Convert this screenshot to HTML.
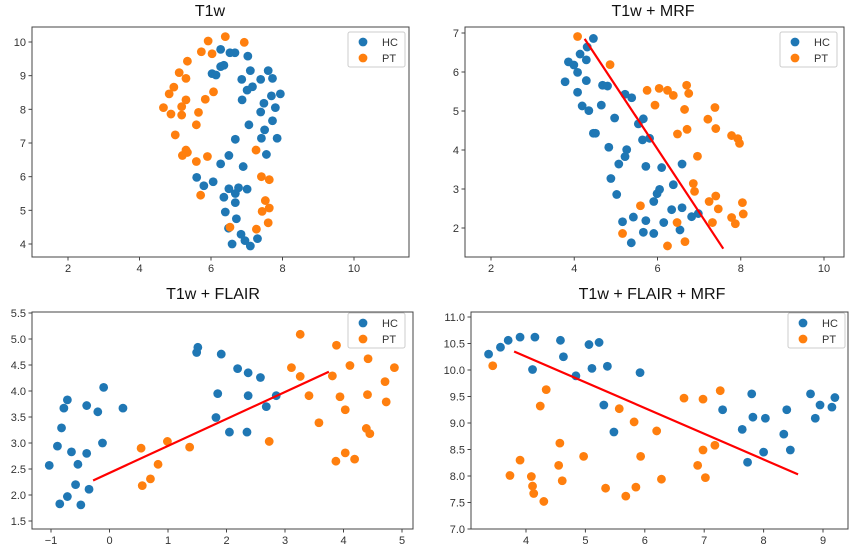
<!DOCTYPE html>
<html><head><meta charset="utf-8"><style>
body{margin:0;background:#fff;width:859px;height:552px;overflow:hidden;font-family:"Liberation Sans",sans-serif}
svg text{font-family:"Liberation Sans",sans-serif}
</style></head><body>
<svg id="chart" width="859" height="552" xmlns="http://www.w3.org/2000/svg"></svg>
<script>
// Panel 1: T1w
const p1HcX=[6.27,6.53,6.67,7.03,6.27,6.36,6.03,6.14,7.1,7.6,6.86,7.39,7.72,7.16,7.01,7.94,7.69,6.87,7.48,7.8,7.39,7.72,7.06,7.5,6.68,7.41,7.85,7.55,6.5,6.27,6.9,5.6,5.8,6.06,6.5,6.77,6.68,7.01,6.36,6.68,6.4,6.71,6.49,6.84,6.95,6.59,7.1,7.3];
const p1HcY=[9.78,9.68,9.68,9.58,9.27,9.31,9.06,9.02,9.15,9.15,8.89,8.89,8.92,8.67,8.57,8.46,8.4,8.28,8.18,8.05,7.92,7.66,7.54,7.39,7.11,7.14,7.14,6.66,6.63,6.38,6.3,5.98,5.73,5.85,5.64,5.67,5.5,5.63,5.39,5.23,4.95,4.75,4.47,4.29,4.1,4.0,3.94,4.16];
const p1PtX=[6.4,5.92,6.93,5.73,6.03,5.34,5.11,5.3,4.96,4.83,6.07,5.3,5.84,4.67,5.18,4.88,5.18,5.65,5.59,5.0,5.3,5.34,5.2,5.59,5.9,7.26,7.41,7.63,5.71,7.52,7.43,7.63,7.6,7.27,6.53];
const p1PtY=[10.16,10.03,9.99,9.71,9.65,9.43,9.09,8.92,8.66,8.46,8.52,8.28,8.3,8.05,8.08,7.86,7.83,7.91,7.54,7.24,6.79,6.72,6.63,6.45,6.6,6.79,6.0,5.91,5.45,5.29,4.97,5.07,4.63,4.44,4.5];
const p1XTicks=[2,4,6,8,10];
const p1YTicks=[4,5,6,7,8,9,10];
// Panel 2: T1w + MRF
const p2HcX=[4.46,4.31,4.14,4.29,3.86,3.99,4.08,3.78,4.29,4.68,4.8,4.08,5.22,5.38,4.19,4.65,4.35,4.97,5.66,5.54,4.46,4.51,5.64,5.81,4.83,5.26,5.22,5.07,5.72,6.1,6.59,4.88,6.38,6.05,5.99,5.02,5.91,5.42,6.34,6.59,6.98,6.82,5.16,5.72,6.15,6.54,5.66,5.91,5.37];
const p2HcY=[6.86,6.64,6.46,6.31,6.26,6.18,5.99,5.75,5.78,5.66,5.64,5.48,5.43,5.34,5.13,5.15,5.01,4.82,4.8,4.67,4.43,4.43,4.26,4.3,4.07,4.01,3.83,3.64,3.58,3.55,3.64,3.27,3.11,2.99,2.88,2.86,2.68,2.28,2.47,2.52,2.37,2.29,2.16,2.19,2.14,1.95,1.89,1.86,1.62];
const p2PtX=[4.08,4.86,5.75,6.04,6.24,6.38,6.7,6.75,5.94,6.65,7.38,7.21,7.4,6.71,6.48,7.78,7.93,7.97,6.96,6.86,6.89,7.4,7.24,7.46,8.04,8.06,7.78,7.87,7.32,5.59,6.47,5.16,6.66,6.24];
const p2PtY=[6.91,6.19,5.53,5.58,5.53,5.4,5.66,5.45,5.15,5.04,5.09,4.79,4.55,4.53,4.41,4.37,4.29,4.17,3.84,3.14,2.94,2.82,2.68,2.49,2.65,2.36,2.27,2.11,2.14,2.57,2.14,1.86,1.65,1.54];
const p2LineX=[4.25,7.58];
const p2LineY=[6.85,1.47];
const p2XTicks=[2,4,6,8,10];
const p2YTicks=[2,3,4,5,6,7];
// Panel 3: T1w + FLAIR
const p3HcX=[-1.03,-0.89,-0.82,-0.78,-0.72,-0.85,-0.72,-0.58,-0.65,-0.54,-0.49,-0.35,-0.39,-0.39,-0.2,-0.12,-0.1,0.23,1.49,1.51,1.91,1.85,1.82,2.19,2.37,2.58,2.37,2.85,2.68,2.05,2.35];
const p3HcY=[2.57,2.94,3.29,3.67,3.83,1.83,1.97,2.2,2.83,2.59,1.81,2.11,2.8,3.72,3.6,3.0,4.07,3.67,4.74,4.84,4.71,3.95,3.49,4.43,4.35,4.26,3.91,3.91,3.7,3.21,3.21];
const p3PtX=[0.54,0.56,0.7,0.83,0.99,1.37,2.73,3.11,3.26,3.26,3.41,3.58,3.81,3.88,3.94,4.03,4.11,3.87,4.03,4.19,4.42,4.41,4.39,4.45,4.71,4.73,4.87];
const p3PtY=[2.9,2.18,2.31,2.59,3.03,2.92,3.03,4.45,5.09,4.28,3.91,3.39,4.29,4.88,3.89,3.64,4.49,2.65,2.81,2.69,4.62,3.93,3.28,3.18,4.18,3.79,4.45];
const p3LineX=[-0.28,3.75];
const p3LineY=[2.28,4.37];
const p3XTicks=[-1,0,1,2,3,4,5];
const p3YTicks=[1.5,2.0,2.5,3.0,3.5,4.0,4.5,5.0,5.5];
// Panel 4: T1w + FLAIR + MRF
const p4HcX=[3.37,3.57,3.7,3.9,4.15,4.11,4.63,4.58,4.84,5.06,5.23,5.11,5.37,5.92,5.31,5.48,7.31,7.64,7.8,7.82,8.03,7.73,8.0,8.39,8.34,8.45,8.79,8.87,8.95,9.15,9.2];
const p4HcY=[10.3,10.43,10.56,10.62,10.62,10.01,10.25,10.56,9.89,10.48,10.52,10.03,10.07,9.95,9.34,8.83,9.25,8.88,9.55,9.11,9.09,8.26,8.45,9.25,8.79,8.49,9.55,9.09,9.34,9.3,9.48];
const p4PtX=[3.44,4.34,4.24,3.73,3.9,4.09,4.11,4.13,4.3,4.57,4.55,4.61,4.97,5.57,5.82,6.2,5.93,5.34,5.68,5.85,6.28,6.66,6.98,7.27,6.98,7.18,6.89,7.02];
const p4PtY=[10.08,9.63,9.32,8.01,8.3,7.99,7.81,7.67,7.52,8.62,8.2,7.91,8.37,9.27,9.02,8.85,8.37,7.77,7.62,7.79,7.94,9.47,9.45,9.61,8.49,8.58,8.2,7.97];
const p4LineX=[3.8,8.58];
const p4LineY=[10.35,8.03];
const p4XTicks=[4,5,6,7,8,9];
const p4YTicks=[7.0,7.5,8.0,8.5,9.0,9.5,10.0,10.5,11.0];

const NS="http://www.w3.org/2000/svg";
const svg=document.getElementById('chart');
function mk(tag,attrs,parent){const e=document.createElementNS(NS,tag);for(const k in attrs)e.setAttribute(k,attrs[k]);(parent||svg).appendChild(e);return e;}
function linScale(d0,d1,r0,r1){return v=>r0+(v-d0)*(r1-r0)/(d1-d0);}

function panel(cfg){
  const g=mk('g',{});
  
  
  const sx=linScale(cfg.xd[0],cfg.xd[1],cfg.xr[0],cfg.xr[1]);
  const sy=linScale(cfg.yd[0],cfg.yd[1],cfg.yr[0],cfg.yr[1]);
  const t=mk('text',{x:cfg.tx,y:cfg.ty,'text-anchor':'middle','font-size':'16',fill:'#111'},g);
  t.textContent=cfg.title;
  
  
  const fr=mk('rect',{x:cfg.box[0],y:cfg.box[1],width:cfg.box[2]-cfg.box[0],height:cfg.box[3]-cfg.box[1],fill:'#fff',stroke:'#444','stroke-width':'1'},g);
  
  
  cfg.xt.forEach(v=>{const x=sx(v);
    mk('line',{x1:x,x2:x,y1:cfg.box[3],y2:cfg.box[3]+3.5,stroke:'#444'},g);
    const l=mk('text',{x:x,y:cfg.box[3]+15,'text-anchor':'middle','font-size':'11',fill:'#333'},g);
    l.textContent=v<0?'\u2212'+(-v):String(v);
    
    });
  cfg.yt.forEach(v=>{const y=sy(v);
    mk('line',{x1:cfg.box[0]-3.5,x2:cfg.box[0],y1:y,y2:y,stroke:'#444'},g);
    const l=mk('text',{x:cfg.box[0]-6,y:y+4,'text-anchor':'end','font-size':'11',fill:'#333'},g);
    l.textContent=cfg.yfix?v.toFixed(1):String(v);
    
    });
  const series=[[cfg.hx,cfg.hy,'#1f77b4','hc-point'],[cfg.px,cfg.py,'#ff7f0e','pt-point']];
  series.forEach(s=>{s[0].forEach((xv,i)=>{
    const c=mk('circle',{cx:sx(xv),cy:sy(s[1][i]),r:4.4,fill:s[2]},g);
    
    });});
  if(cfg.lx){const ln=mk('line',{x1:sx(cfg.lx[0]),y1:sy(cfg.ly[0]),x2:sx(cfg.lx[1]),y2:sy(cfg.ly[1]),stroke:'#ff0000','stroke-width':'2.2'},g);
    
    }
  const L=cfg.leg;
  const lg=mk('g',{},g);
  
  
  mk('rect',{x:L[0],y:L[1],width:57,height:35,fill:'#fff',stroke:'#ccc','stroke-width':'1',rx:2},lg);
  [['HC','#1f77b4',10],['PT','#ff7f0e',26]].forEach(e=>{
    const c=mk('circle',{cx:L[0]+15,cy:L[1]+e[2],r:4.4,fill:e[1]},lg);
    
    
    const tx=mk('text',{x:L[0]+34,y:L[1]+e[2]+4,'font-size':'11',fill:'#333'},lg);
    tx.textContent=e[0];
    
    });
}

panel({name:'panel-t1w',title:'T1w',tx:210,ty:16,box:[32,27,409,257],xd:[2,10],xr:[68,354],yd:[4,10],yr:[244,42],xt:p1XTicks,yt:p1YTicks,hx:p1HcX,hy:p1HcY,px:p1PtX,py:p1PtY,leg:[348,32]});
panel({name:'panel-t1w-mrf',title:'T1w + MRF',tx:653,ty:16,box:[465,27,844,257],xd:[2,10],xr:[491,824],yd:[2,7],yr:[228,33],xt:p2XTicks,yt:p2YTicks,hx:p2HcX,hy:p2HcY,px:p2PtX,py:p2PtY,lx:p2LineX,ly:p2LineY,leg:[780,32]});
panel({name:'panel-t1w-flair',title:'T1w + FLAIR',tx:213,ty:299,box:[32,312,413,529],xd:[-1,5],xr:[51,402],yd:[1.5,5.5],yr:[521,313],xt:p3XTicks,yt:p3YTicks,yfix:true,hx:p3HcX,hy:p3HcY,px:p3PtX,py:p3PtY,lx:p3LineX,ly:p3LineY,leg:[348,313]});
panel({name:'panel-t1w-flair-mrf',title:'T1w + FLAIR + MRF',tx:652,ty:299,box:[471,312,848,529],xd:[4,9],xr:[526,823],yd:[7,11],yr:[529,317],xt:p4XTicks,yt:p4YTicks,yfix:true,hx:p4HcX,hy:p4HcY,px:p4PtX,py:p4PtY,lx:p4LineX,ly:p4LineY,leg:[788,313]});
</script>
</body></html>
